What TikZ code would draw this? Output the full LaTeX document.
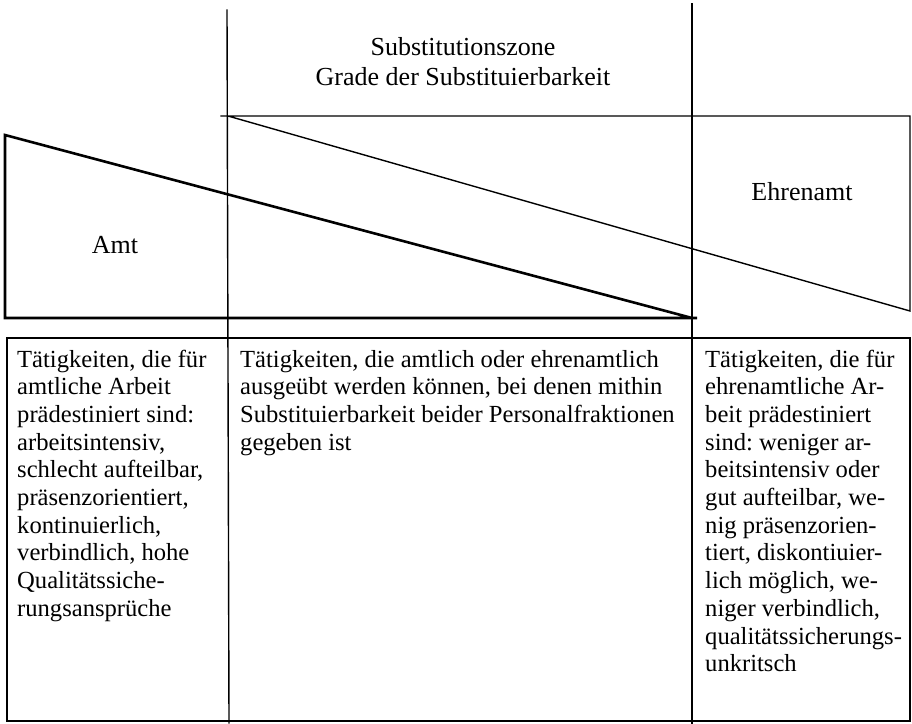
\documentclass[tikz,border=0pt]{standalone}
\usepackage{fontspec}
\setmainfont{Liberation Serif}
\frenchspacing
\begin{document}
\begin{tikzpicture}[x=1pt,y=-1pt,
  thinline/.style={line width=1.4pt,line cap=rect},
  boldline/.style={line width=2.6pt,line join=miter},
  celltext/.style={anchor=base west,inner sep=0pt},
  headtext/.style={inner sep=0pt,font=\fontsize{26}{30}\selectfont}]
\useasboundingbox (0,0) rectangle (912,723);
% named coordinates
\coordinate (v1top) at (227,10);
\coordinate (v1bot) at (229,723);
\coordinate (v2top) at (692,4);
\coordinate (v2bot) at (692,723);
\coordinate (hA) at (221,116);
\coordinate (hB) at (910,116);
\coordinate (rC) at (910,311);
\coordinate (lA) at (5,135);
\coordinate (lB) at (5,318);
\coordinate (lC) at (697,318);
\coordinate (lD) at (692,318);
\coordinate (tTL) at (7,338);
\coordinate (tTR) at (910,338);
\coordinate (tBL) at (7,721);
\coordinate (tBR) at (910,721);
% vertical lines
\draw[thinline] (v1top) -- (v1bot);
\draw[thinline] (v2top) -- (v2bot);
% right triangle (Ehrenamt)
\draw[thinline] (hA) -- (hB) -- (rC) -- (228,116);
% left triangle (Amt)
\draw[boldline] (lD) -- (lA) -- (lB) -- (lC);
% table
\draw[thinline] (tBL) -- (tTL) -- (tTR) -- (tBR) -- cycle;
% labels
\node[headtext,align=center] (sub) at (463,62) {Substitutionszone\\Grade der Substituierbarkeit};
\node[headtext,anchor=base] (amt) at (115,253) {Amt};
\node[headtext,anchor=base] (ehr) at (802,200) {Ehrenamt};
% cells
\node[celltext] (c1) at (17,367) {\fontsize{24.6}{27.7}\selectfont\parbox[t]{210pt}{%
Tätigkeiten, die für\\
amtliche Arbeit\\
prädestiniert sind:\\
arbeitsintensiv,\\
schlecht aufteilbar,\\
präsenzorientiert,\\
kontinuierlich,\\
verbindlich, hohe\\
Qualitätssiche-\\
rungsansprüche}};
\node[celltext] (c2) at (240,367) {\fontsize{24.6}{27.7}\selectfont\parbox[t]{450pt}{%
Tätigkeiten, die amtlich oder ehrenamtlich\\
ausgeübt werden können, bei denen mithin\\
Substituierbarkeit beider Personalfraktionen\\
gegeben ist}};
\node[celltext] (c3) at (705,367) {\fontsize{24.6}{27.7}\selectfont\parbox[t]{205pt}{%
Tätigkeiten, die für\\
ehrenamtliche Ar-\\
beit prädestiniert\\
sind: weniger ar-\\
beitsintensiv oder\\
gut aufteilbar, we-\\
nig präsenzorien-\\
tiert, diskontiuier-\\
lich möglich, we-\\
niger verbindlich,\\
qualitätssicherungs-\\
unkritsch}};
\end{tikzpicture}
\end{document}
